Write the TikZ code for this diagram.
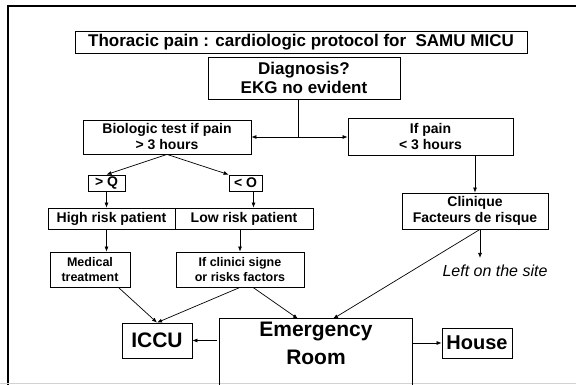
\documentclass[tikz,border=0pt]{standalone}
\usepackage{fontspec}
\setmainfont{Liberation Sans}
\usetikzlibrary{arrows.meta,calc}
\begin{document}
\begin{tikzpicture}[x=1pt,y=-1pt,
  box/.style={draw, line width=0.8pt, inner sep=0pt, align=center, font=\bfseries\fontsize{14}{16}\selectfont},
  ftitle/.style={font=\bfseries\fontsize{17}{19}\selectfont},
  fsmall/.style={font=\bfseries\fontsize{12.5}{15}\selectfont},
  fbig/.style={font=\bfseries\fontsize{21}{28}\selectfont},
  conn/.style={line width=0.7pt},
  arr/.style={conn, -{Latex[length=5pt,width=4pt]}}]
\useasboundingbox (0,0) rectangle (576,385);
\fill[white] (0,0) rectangle (576,385);
\draw[line width=2.2pt] (8,385) -- (8,6) -- (576,6);
\draw[gray!35, line width=0.8pt] (0,383) -- (576,383);

\node[box, ftitle, minimum width=452pt, minimum height=22pt] (title) at (301,42) {Thoracic pain : cardiologic protocol for\ \ SAMU MICU};
\node[box, ftitle, minimum width=192pt, minimum height=42pt] (diag) at (304,78) {Diagnosis?\\EKG no evident};
\node[box, minimum width=168pt, minimum height=34pt] (bio) at (167,137) {Biologic test if pain\\> 3 hours};
\node[box, minimum width=165pt, minimum height=37pt] (ifpain) at (430.5,137) {If pain\\< 3 hours};
\node[box, minimum width=37pt, minimum height=16pt] (gtq) at (106.5,183) {> Q};
\node[box, minimum width=33pt, minimum height=16pt] (ltq) at (245.5,183) {< O};
\node[box, minimum width=127pt, minimum height=21pt] (high) at (111.5,218.5) {High risk patient};
\node[box, minimum width=138pt, minimum height=21pt] (low) at (244,218.5) {Low risk patient};
\node[box, fsmall, minimum width=80pt, minimum height=35pt] (med) at (90,269.5) {Medical\\treatment};
\node[box, fsmall, minimum width=128pt, minimum height=35pt] (clin) at (240,269.5) {If clinici signe\\or risks factors};
\node[box, minimum width=146pt, minimum height=36pt] (cliniq) at (475,211) {Clinique\\Facteurs de risque};
\node[font=\itshape\fontsize{16}{18}\selectfont, inner sep=0pt] (left) at (495,271) {Left on the site};
\node[box, fbig, minimum width=70pt, minimum height=35pt] (iccu) at (157,340.5) {ICCU};
\node[fbig, align=center, inner sep=0pt, minimum width=192pt, minimum height=49pt] (er) at (316,343.5) {Emergency\\Room};
\draw[line width=0.8pt] ($(er.south west)+(0,20)$) -- (er.north west) -- (er.north east) -- ($(er.south east)+(0,20)$);
\node[box, fbig, font=\bfseries\fontsize{20}{24}\selectfont, minimum width=70pt, minimum height=30pt] (house) at (477,343) {House};

\coordinate (j) at (298,137);
\draw[conn] (j |- diag.south) -- (j);
\draw[arr] (j) -- (bio.east);
\draw[arr] (j) -- (ifpain.west);
\draw[arr] (bio.south) -- (gtq.north);
\draw[arr] (bio.south) -- (ltq.north west);
\draw[arr] (gtq.south) -- (gtq.south |- high.north);
\coordinate (a1) at ($(ltq.south)+(8,0)$);
\draw[arr] (a1) -- (a1 |- low.north);
\draw[arr] (high.south -| gtq.south) -- (med.north -| gtq.south);
\draw[arr] (low.south -| clin.north) -- (clin.north);
\draw[arr] ($(med.south east)+(-12,0)$) -- (iccu.north);
\draw[arr] (clin.south) -- (iccu.north);
\draw[arr] ($(clin.south)+(13,0)$) -- ($(er.north)+(-18,0)$);
\coordinate (c1) at ($(cliniq.south)+(5,0)$);
\draw[arr] (c1) -- ($(er.north)+(17,0)$);
\draw[arr, shorten >=7pt] (c1) -- (c1 |- left.north);
\draw[arr] (ifpain.south -| cliniq.north) -- (cliniq.north);
\draw[arr, shorten <=3pt] (er.west |- iccu.east) -- (iccu.east);
\draw[arr] (er.east |- house.west) -- (house.west);
\end{tikzpicture}
\end{document}
